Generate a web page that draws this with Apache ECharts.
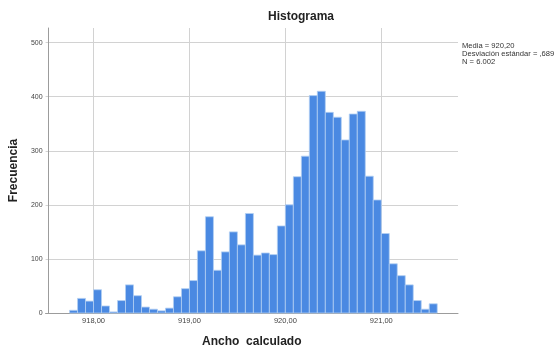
<!DOCTYPE html>
<html>
<head>
<meta charset="utf-8">
<script src="https://cdn.jsdelivr.net/npm/echarts@6/dist/echarts.min.js"></script>
<style>
  html, body { margin: 0; padding: 0; background: #fff; }
  #chart { width: 559px; height: 353px; }
</style>
</head>
<body>
<div id="chart"></div>
<script>
// Histogram of "Ancho calculado": 46 bins of width 1/12 starting at 917.75
const binStart = 917.75;
const binWidth = 1 / 12;
const counts = [
  5, 27, 22, 43, 13, 2, 23, 52, 32, 11, 7, 4,
  9, 30, 45, 60, 115, 178, 79, 113, 150, 126, 184, 107,
  111, 108, 161, 200, 252, 290, 402, 410, 371, 362, 320, 368,
  373, 253, 209, 147, 91, 69, 52, 23, 7, 17
];
const statsLines = ['Media = 920,20', 'Desviación estándar = ,689', 'N = 6.002'];
const xTickValues = [918, 919, 920, 921];
const yTickValues = [0, 100, 200, 300, 400, 500];

const FONT = '"Liberation Sans", Arial, sans-serif';

// each bin as [lower edge, upper edge, count]
const bins = counts.map((c, i) => [binStart + i * binWidth, binStart + (i + 1) * binWidth, c]);

const chart = echarts.init(document.getElementById('chart'), null, { renderer: 'canvas' });

chart.setOption({
  animation: false,
  backgroundColor: '#ffffff',
  grid: { left: 44, right: 101, top: 28, bottom: 34, containLabel: false },
  xAxis: {
    type: 'value',
    min: 917.5,
    max: 921.8,
    interval: 0.5,
    name: 'Ancho  calculado',
    nameLocation: 'middle',
    nameGap: 23,
    nameTextStyle: { fontFamily: FONT, fontSize: 12, fontWeight: 'bold', color: '#222' },
    axisLine: { show: true, lineStyle: { color: '#9c9c9c', width: 1 } },
    axisTick: { show: false },
    axisLabel: {
      show: true,
      margin: 4,
      fontFamily: FONT,
      fontSize: 7.5,
      color: '#444',
      showMinLabel: true,
      showMaxLabel: true,
      formatter: function (v) {
        const r = Math.round(v);
        if (Math.abs(v - r) < 1e-6 && xTickValues.indexOf(r) >= 0) {
          return r.toFixed(2).replace('.', ',');
        }
        return '';
      }
    },
    splitLine: {
      show: true,
      lineStyle: {
        // only whole-number ticks get a grid line
        color: ['transparent', '#d2d2d2', 'transparent', '#d2d2d2', 'transparent',
                '#d2d2d2', 'transparent', '#d2d2d2', 'transparent', 'transparent'],
        width: 1
      }
    }
  },
  yAxis: {
    type: 'value',
    min: 0,
    max: 527,
    interval: 100,
    offset: -3,
    name: 'Frecuencia',
    nameLocation: 'middle',
    nameGap: 27,
    nameTextStyle: { fontFamily: FONT, fontSize: 12, fontWeight: 'bold', color: '#222' },
    axisLine: { show: true, lineStyle: { color: '#9c9c9c', width: 1 } },
    axisTick: { show: false },
    axisLabel: {
      margin: 6,
      fontFamily: FONT,
      fontSize: 7,
      color: '#444',
      formatter: function (v) {
        return yTickValues.indexOf(v) >= 0 ? String(v) : '';
      }
    },
    splitLine: {
      show: true,
      lineStyle: {
        color: ['#d2d2d2', '#d2d2d2', '#d2d2d2', '#d2d2d2', '#d2d2d2', '#d2d2d2', 'transparent'],
        width: 1
      }
    }
  },
  series: [{
    type: 'custom',
    data: bins,
    encode: { x: [0, 1], y: 2 },
    renderItem: function (params, api) {
      const p0 = api.coord([api.value(0), api.value(2)]);
      const p1 = api.coord([api.value(1), 0]);
      return {
        type: 'rect',
        shape: { x: p0[0], y: p0[1], width: p1[0] - p0[0], height: p1[1] - p0[1] },
        style: { fill: '#4a89e2', stroke: '#b3cff3', lineWidth: 0.8 }
      };
    }
  }],
  graphic: [
    {
      type: 'text',
      left: 268,
      top: 11,
      style: {
        text: 'Histograma',
        font: 'bold 12px ' + FONT,
        fill: '#222'
      }
    },
    {
      type: 'text',
      left: 462,
      top: 42,
      style: {
        text: statsLines.join('\n'),
        font: '7.6px ' + FONT,
        lineHeight: 7.8,
        fill: '#333'
      }
    }
  ]
});
</script>
</body>
</html>
